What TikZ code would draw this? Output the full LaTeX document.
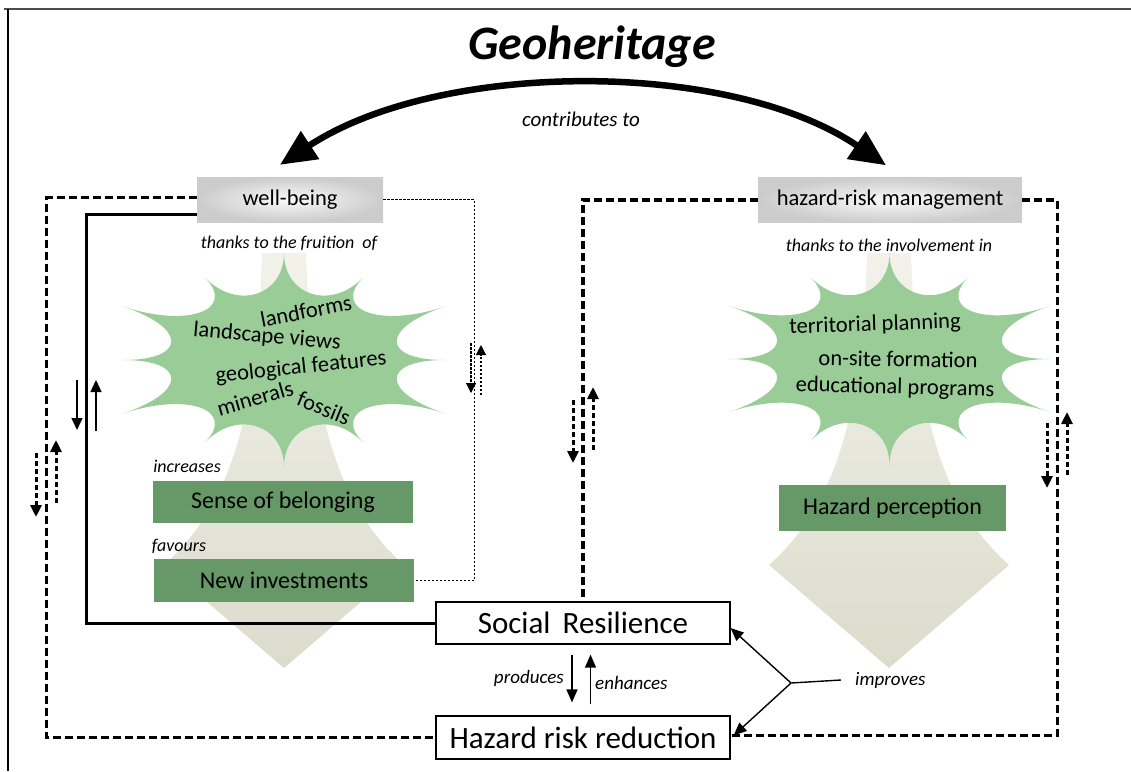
\documentclass[tikz,border=0pt]{standalone}
\usepackage{fontspec}
\setmainfont{Carlito}
\usetikzlibrary{arrows.meta}

\definecolor{burstgreen}{RGB}{154,204,152}
\definecolor{boxgreen}{RGB}{103,152,103}
\definecolor{paletop}{RGB}{242,242,235}
\definecolor{palebot}{RGB}{219,220,204}

\tikzset{
  greybox/.style={inner sep=0pt, minimum height=45pt, shade, inner color=gray!5, outer color=gray!40,
    font=\fontsize{22.5}{26}\selectfont},
  greenbox/.style={fill=boxgreen, inner sep=0pt, font=\fontsize{24}{28}\selectfont},
  mainbox/.style={draw, line width=1.2pt, fill=white, inner sep=0pt, minimum width=294pt,
    minimum height=42pt, font=\fontsize{31}{36}\selectfont},
  burstlabel/.style={inner sep=0pt, font=\fontsize{22.5}{26}\selectfont},
  note/.style={inner sep=0pt, font=\fontsize{18}{22}\selectfont\itshape},
  thickdash/.style={line width=3.2pt, dash pattern=on 8pt off 4pt},
  smalldash/.style={line width=3pt, dash pattern=on 5pt off 3pt},
  thindash/.style={line width=1.1pt, dash pattern=on 2.5pt off 1.5pt},
  smalltip/.style={-{Triangle[length=12pt,width=11pt]}},
}

% burst with twelve spikes, unit half axes
\newcommand{\burst}{(0,1) .. controls (0,.6) and (.294,.462) .. (.49,.77)
  .. controls (.294,.462) and (.6,.3) .. (1,.5) .. controls (.6,.3) and (.6,0) .. (1,0)
  .. controls (.6,0) and (.6,-.3) .. (1,-.5) .. controls (.6,-.3) and (.294,-.462) .. (.49,-.77)
  .. controls (.294,-.462) and (0,-.6) .. (0,-1) .. controls (0,-.6) and (-.294,-.462) .. (-.49,-.77)
  .. controls (-.294,-.462) and (-.6,-.3) .. (-1,-.5) .. controls (-.6,-.3) and (-.6,0) .. (-1,0)
  .. controls (-.6,0) and (-.6,.3) .. (-1,.5) .. controls (-.6,.3) and (-.294,.462) .. (-.49,.77)
  .. controls (-.294,.462) and (0,.6) .. cycle}
% flared arrow under each burst
\newcommand{\palearrow}{(-22,0) -- (22,0) .. controls (27,147) and (47,247) .. (120,312)
  -- (0,415) -- (-120,312) .. controls (-47,247) and (-27,147) .. cycle}

\begin{document}
\begin{tikzpicture}[x=1pt, y=-1pt]
  \useasboundingbox (0,0) rectangle (1131,771);
  \draw[line width=2pt, gray!60!black] (4,9) -- (1131,9);
  \draw[line width=1.2pt] (8,9) -- (8,771);

  % backgrounds
  \foreach \cx in {284,889} {
    \shade[top color=paletop, bottom color=palebot, shift={(\cx,253)}] \palearrow;
  }
  \begin{scope}[shift={(284,360)}, x=161pt, y=107pt]
    \fill[burstgreen] \burst;
  \end{scope}
  \begin{scope}[shift={(889.5,359)}, x=160.5pt, y=106pt]
    \fill[burstgreen] \burst;
  \end{scope}

  \node[font=\fontsize{48}{54}\selectfont\bfseries\itshape] (title) at (592,47) {Geoheritage};
  \node[note, font=\fontsize{21}{24}\selectfont\itshape] (contrib) at (581,119) {contributes to};

  \node[greybox, minimum width=186pt] (wb) at (290,199.5) {well-being};
  \node[greybox, minimum width=264pt] (hrm) at (890,200) {hazard-risk management};
  \node[note] (fruit) at (289,243) {thanks to the fruition\ \ of};
  \node[note] (involve) at (889,245) {thanks to the involvement in};

  % left burst
  \node[burstlabel, rotate=11] (forms) at (306,311) {landforms};
  \node[burstlabel, rotate=-5] (views) at (267,337) {landscape views};
  \node[burstlabel, rotate=6] (feat) at (301,368) {geological features};
  \node[burstlabel, rotate=16] (miner) at (255,398) {minerals};
  \node[burstlabel, rotate=-22] (foss) at (324,408) {fossils};
  % right burst
  \node[burstlabel, rotate=2] (plan) at (875,325) {territorial planning};
  \node[burstlabel, rotate=-1] (form) at (898,359) {on-site formation};
  \node[burstlabel, rotate=-1.5] (edu) at (895,388) {educational programs};

  \node[note] (incr) at (187,466) {increases};
  \node[greenbox, minimum width=260pt, minimum height=42pt] (belong) at (283,502) {Sense of belonging};
  \node[note] (fav) at (179,546) {favours};
  \node[greenbox, minimum width=260pt, minimum height=43pt] (invest) at (284,580.5) {New investments};
  \node[greenbox, minimum width=227pt, minimum height=46pt] (perc) at (892.5,508) {Hazard perception};

  \node[mainbox] (sr) at (583,623) {Social\ \,Resilience};
  \node[mainbox, minimum height=43pt] (hrr) at (583,737.5) {Hazard risk reduction};

  \node[note, font=\fontsize{19}{22}\selectfont\itshape, anchor=east] (prod) at (564,678) {produces};
  \node[note, font=\fontsize{19}{22}\selectfont\itshape, anchor=west] (enh) at (595,683) {enhances};
  \node[note, font=\fontsize{19}{22}\selectfont\itshape, anchor=west] (impr) at (855,680) {improves};

  % contribution arc
  \draw[line width=6.5pt, {Triangle[length=36pt,width=32pt]}-{Triangle[length=36pt,width=32pt]}]
    ([xshift=-10pt,yshift=12pt]wb.north) .. controls +(160,-105) and +(-156,-106)
    .. ([xshift=-4pt,yshift=12pt]hrm.north);

  % loops
  \draw[thickdash] ([yshift=2pt]wb.west) -- ++(-150,0) |- (hrr.west);
  \draw[line width=3pt] ([yshift=-15pt]wb.west) -- ++(-110,0) |- (sr.west);
  \draw[thindash] (wb.east) -- ++(91,0) |- (invest.east);
  \draw[thickdash] (hrm.west) -| (sr.north);
  \draw[thickdash] (hrm.east) -- ++(35,0) |- ([yshift=2pt]hrr.east);

  % two-way marks along the loops
  \draw[smalldash, smalltip] (36,453) -- (36,517);
  \draw[smalldash, smalltip] (56,503) -- (56,440);
  \draw[line width=1.4pt, smalltip] (77,380) -- (77,430);
  \draw[line width=1.4pt, smalltip] (96,431) -- (96,380);
  \draw[thindash, -{Triangle[length=10pt,width=10pt]}] (471,343) -- (471,393);
  \draw[thindash, -{Triangle[length=10pt,width=10pt]}] (481,395) -- (481,345);
  \draw[smalldash, smalltip] (573,400) -- (573,463);
  \draw[smalldash, smalltip] (593,450) -- (593,387);
  \draw[smalldash, smalltip] (1047,423) -- (1047,488);
  \draw[smalldash, smalltip] (1067,475) -- (1067,412);

  % produces / enhances
  \draw[line width=1.3pt, -{Triangle[length=13pt,width=11pt]}, shorten <=10pt, shorten >=13pt]
    ([xshift=-11pt]sr.south) -- ([xshift=-11pt]hrr.north);
  \draw[line width=1.3pt, -{Triangle[length=13pt,width=11pt]}, shorten <=11pt, shorten >=10pt]
    ([xshift=7.5pt]hrr.north) -- ([xshift=7.5pt]sr.south);

  % improves
  \coordinate (fork) at (791,683);
  \draw[line width=1.4pt] (fork) -- ([xshift=-14pt]impr.west);
  \draw[line width=1.4pt, -{Triangle[length=13pt,width=11pt]}] (fork) -- ([yshift=-5pt]sr.east);
  \draw[line width=1.4pt, -{Triangle[length=13pt,width=11pt]}] (fork) -- ([xshift=3pt,yshift=2pt]hrr.east);
\end{tikzpicture}
\end{document}
